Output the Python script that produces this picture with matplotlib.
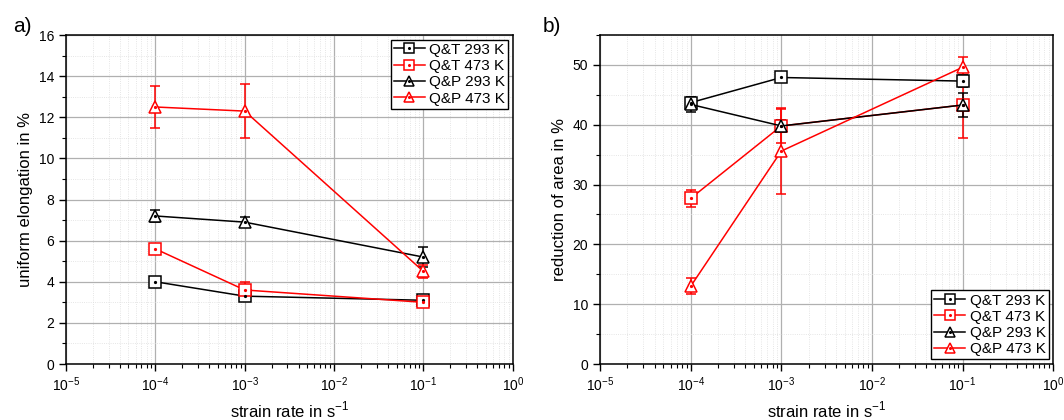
import numpy as np
import matplotlib
matplotlib.use('Agg')
import matplotlib.pyplot as plt
from matplotlib.lines import Line2D
from matplotlib.ticker import LogLocator, MultipleLocator, FixedLocator

plt.rcParams['font.family'] = ['Liberation Sans', 'DejaVu Sans']
plt.rcParams['mathtext.fontset'] = 'custom'
plt.rcParams['mathtext.rm'] = 'Liberation Sans'

# 应变速率
rates = [1e-4, 1e-3, 1e-1]
labels = ['Q&T 293 K', 'Q&T 473 K', 'Q&P 293 K', 'Q&P 473 K']
colors = ['black', 'red', 'black', 'red']
markers = ['s', 's', '^', '^']

# a) uniform elongation
ue_qt293 = [4.0, 3.3, 3.1]
ue_qt293_err = [0.15, 0.15, 0.15]
ue_qt473 = [5.6, 3.6, 3.0]
ue_qt473_err = [0.1, 0.4, 0.1]
ue_qp293 = [7.2, 6.9, 5.2]
ue_qp293_err = [0.3, 0.25, 0.5]
ue_qp473 = [12.5, 12.3, 4.5]
ue_qp473_err = [1.0, 1.3, 0.3]

# b) reduction of area
ra_qt293 = [43.7, 47.9, 47.3]
ra_qt293_err = [1.0, 0.5, 1.0]
ra_qt473 = [27.7, 39.8, 43.3]
ra_qt473_err = [1.4, 2.8, 5.5]
ra_qp293 = [43.4, 39.8, 43.3]
ra_qp293_err = [1.2, 1.0, 2.0]
ra_qp473 = [13.0, 35.6, 49.6]
ra_qp473_err = [1.3, 7.2, 1.8]

fig = plt.figure(figsize=(10.64, 4.2), dpi=100)
ax1 = fig.add_axes([0.062, 0.1333, 0.420, 0.7833])
ax2 = fig.add_axes([0.564, 0.1333, 0.4258, 0.7833])


def draw(ax, series, errs):
    for y, e, c, m in zip(series, errs, colors, markers):
        ax.errorbar(rates, y, yerr=e, color=c, marker=m, ms=8.5, mfc='white',
                    mec=c, mew=1.1, lw=1.1, capsize=3.5, elinewidth=1.1,
                    zorder=3)
        ax.plot(rates, y, ls='none', marker='o', ms=1.3, color=c, zorder=4)


def style(ax, ylim, major, minor, ylabel):
    ax.set_xscale('log')
    ax.set_xlim(1e-5, 1)
    ax.set_ylim(*ylim)
    ax.xaxis.set_major_locator(FixedLocator([1e-5, 1e-4, 1e-3, 1e-2, 1e-1, 1]))
    ax.xaxis.set_minor_locator(LogLocator(base=10, subs=np.arange(2, 10), numticks=20))
    ax.yaxis.set_major_locator(MultipleLocator(major))
    ax.yaxis.set_minor_locator(MultipleLocator(minor))
    ax.grid(True, which='major', color='#b0b0b0', lw=0.9)
    ax.grid(True, which='minor', color='#dddddd', lw=0.6, ls=':')
    ax.tick_params(which='both', direction='out', labelsize=10)
    ax.tick_params(which='major', length=5, width=1)
    ax.tick_params(which='minor', length=3, width=0.8)
    for s in ax.spines.values():
        s.set_linewidth(1.1)
    ax.set_xlabel('strain rate in s$^{-1}$', fontsize=12)
    ax.set_ylabel(ylabel, fontsize=12)
    ax.set_axisbelow(True)


draw(ax1, [ue_qt293, ue_qt473, ue_qp293, ue_qp473],
     [ue_qt293_err, ue_qt473_err, ue_qp293_err, ue_qp473_err])
style(ax1, (0, 16), 2, 1, 'uniform elongation in %')

draw(ax2, [ra_qt293, ra_qt473, ra_qp293, ra_qp473],
     [ra_qt293_err, ra_qt473_err, ra_qp293_err, ra_qp473_err])
style(ax2, (0, 55), 10, 5, 'reduction of area in %')

# 图例: 线 + 空心标记 + 中心小点
handles = []
for c, m in zip(colors, markers):
    h1 = Line2D([], [], color=c, marker=m, ms=7, mfc='white', mec=c, mew=1.1, lw=1.1)
    h2 = Line2D([], [], ls='none', marker='o', ms=1.2, color=c)
    handles.append((h1, h2))
for ax, loc in [(ax1, 'upper right'), (ax2, 'lower right')]:
    leg = ax.legend(handles, labels, loc=loc, fontsize=11, frameon=True,
                    fancybox=False, edgecolor='black', framealpha=1,
                    borderpad=0.2, handlelength=2.0, handletextpad=0.3,
                    labelspacing=0.15, borderaxespad=0.3)
    leg.get_frame().set_linewidth(1.0)

fig.text(0.012, 0.925, 'a)', fontsize=15)
fig.text(0.510, 0.925, 'b)', fontsize=15)

plt.savefig('out.png', dpi=100)
